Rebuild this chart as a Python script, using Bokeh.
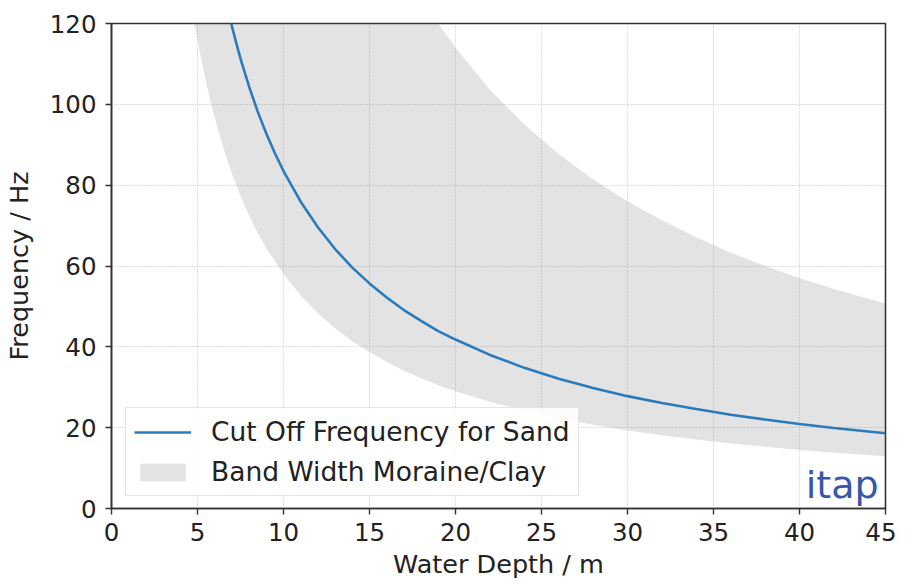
from bokeh.plotting import figure
from bokeh.models import Range1d, FixedTicker, Legend, LegendItem, Label
from bokeh.embed import file_html
from bokeh.resources import INLINE

# --- data ---
band_depth = [4.83, 5, 5.25, 5.5, 5.75, 6, 6.5, 7, 7.5, 8, 8.5, 9, 10, 11, 12, 13, 14,
              15, 16, 17, 18, 19, 20, 22, 24, 26, 28, 30, 32, 34, 36, 38, 40, 42, 45]
band_lower = [120, 116, 110.5, 105.5, 100.9, 96.7, 89.2, 82.9, 77.3, 72.5, 68.2, 64.4,
              58, 52.7, 48.3, 44.6, 41.4, 38.7, 36.3, 34.1, 32.2, 30.5, 29, 26.4, 24.2,
              22.3, 20.7, 19.3, 18.1, 17.1, 16.1, 15.3, 14.5, 13.8, 12.9]
band_upper = [120, 120, 120, 120, 120, 120, 120, 120, 120, 120, 120, 120, 120, 120, 120,
              120, 120, 120, 120, 120, 120, 120, 114, 103.6, 95, 87.7, 81.4, 76, 71.3,
              67.1, 63.3, 60, 57, 54.3, 50.7]

sand_depth = [6.96, 7.25, 7.5, 8, 8.5, 9, 9.5, 10, 11, 12, 13, 14, 15, 16, 17, 18, 19,
              20, 22, 24, 26, 28, 30, 32, 34, 36, 38, 40, 42, 45]
sand_freq = [120, 115.2, 111.3, 104.4, 98.2, 92.8, 87.9, 83.5, 75.9, 69.6, 64.2, 59.6,
             55.7, 52.2, 49.1, 46.4, 43.9, 41.8, 38, 34.8, 32.1, 29.8, 27.8, 26.1, 24.6,
             23.2, 22, 20.9, 19.9, 18.6]

x_ticks = [0, 5, 10, 15, 20, 25, 30, 35, 40, 45]
y_ticks = [0, 20, 40, 60, 80, 100, 120]

FONT = "DejaVu Sans"
TXT = "#222222"

p = figure(frame_width=774, frame_height=485, output_backend="svg", toolbar_location=None,
           x_range=Range1d(0, 45), y_range=Range1d(0, 120),
           min_border_left=109, min_border_right=11, min_border_top=23,
           min_border_bottom=62)

p.background_fill_color = "white"
p.border_fill_color = "white"
p.outline_line_color = "#333333"
p.outline_line_width = 1.6

band = p.varea(x=band_depth, y1=band_lower, y2=band_upper,
               fill_color="#808080", fill_alpha=0.22)
line = p.line(sand_depth, sand_freq, line_color="#2a7bbb", line_width=2.6)

for ax, ticks in ((p.xaxis, x_ticks), (p.yaxis, y_ticks)):
    ax.ticker = FixedTicker(ticks=ticks)
    ax.minor_tick_line_color = None
    ax.major_tick_in = 0
    ax.major_tick_out = 6
    ax.major_tick_line_color = "#333333"
    ax.major_tick_line_width = 1.4
    ax.axis_line_color = "#333333"
    ax.axis_line_width = 1.6
    ax.major_label_text_font = FONT
    ax.major_label_text_font_size = "24.5px"
    ax.major_label_text_color = TXT
    ax.axis_label_text_font = FONT
    ax.axis_label_text_font_size = "25.5px"
    ax.axis_label_text_font_style = "normal"
    ax.axis_label_text_color = TXT

p.xaxis.axis_label = "Water Depth / m"
p.yaxis.axis_label = "Frequency / Hz"
p.xaxis.major_label_standoff = 8
p.yaxis.major_label_standoff = 9
p.xaxis.axis_label_standoff = 5
p.yaxis.axis_label_standoff = 13

for g in (p.xgrid, p.ygrid):
    g.grid_line_color = "#bdbdbd"
    g.grid_line_dash = "1 2"
    g.grid_line_width = 1

legend = Legend(items=[LegendItem(label="Cut Off Frequency for Sand", renderers=[line]),
                       LegendItem(label="Band Width Moraine/Clay", renderers=[band])],
                location=(14, 12), margin=0)
legend.label_text_font = FONT
legend.label_text_font_size = "26.5px"
legend.label_text_color = TXT
legend.glyph_width = 57
legend.glyph_height = 22
legend.label_standoff = 20
legend.padding = 8
legend.spacing = 9
legend.border_line_color = "#cccccc"
legend.border_line_width = 1
legend.background_fill_color = "white"
legend.background_fill_alpha = 0.85
p.add_layout(legend, "center")

logo = Label(x=44.6, y=0.3, text="itap", text_align="right", text_baseline="bottom",
             text_font=FONT, text_font_size="38px", text_color="#3a56a8")
p.add_layout(logo)

open("out.html", "w").write(file_html(p, INLINE))
